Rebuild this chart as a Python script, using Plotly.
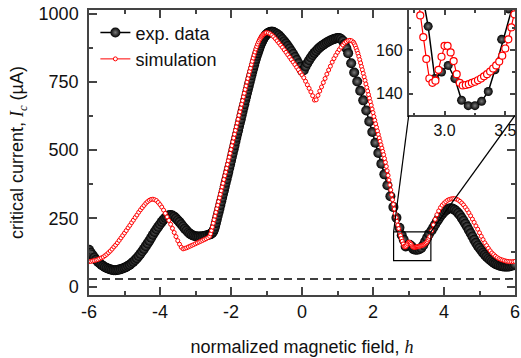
import numpy as np
import plotly.graph_objects as go

# ---------------- data ----------------
# experimental critical current (black balls); each segment: start h, step h, values (uA)
exp_seg_h0 = [-6.0, -2.575, -0.75, 1.30, 2.81, 3.65]
exp_seg_dh = [0.05, 0.025, 0.05, 0.085, 0.055, 0.05]
exp_ic_1 = [135, 124, 115, 106, 98, 91, 85, 80, 75, 71, 68, 65, 63, 61, 60, 60, 61, 62, 64, 66,
            69, 72, 76, 80, 85, 91, 97, 104, 112, 120, 129, 138, 148, 158, 168, 179, 190, 200, 210, 219,
            228, 237, 245, 252, 257, 261, 262, 260, 256, 250, 243, 236, 228, 220, 212, 205, 198, 193, 189, 186,
            184, 183, 183, 183, 184, 185, 187, 189, 191]
exp_ic_2 = [192, 194, 197, 202, 210, 220, 233, 246,
            259, 272, 285, 299, 312, 325, 339, 352,
            366, 380, 393, 407, 420, 434, 447, 461,
            475, 489, 503, 517, 531, 545, 559, 572,
            586, 600, 613, 627, 641, 655, 668, 682,
            695, 709, 722, 735, 748, 761, 774, 787,
            799, 811, 823, 834, 845, 855, 865, 874,
            883, 891, 898, 905, 911, 916, 920, 924,
            927, 929, 931, 932, 933, 933, 933, 932]
exp_ic_3 = [929, 925, 920, 913, 906, 898, 890, 881, 872, 862, 852, 841, 830, 818, 805, 791,
            792, 806, 818, 829, 839, 848, 856, 863, 870, 876, 881, 886, 890, 894, 898, 901,
            904, 907, 909, 910, 910, 907, 900, 888, 873]
exp_ic_4 = [855, 818, 784, 751, 717, 682, 645, 605, 566, 527, 489, 450, 411, 371, 331, 291, 252, 215]
exp_ic_5 = [188, 171, 147, 150, 153, 147, 137, 134.5, 134.5, 136.5, 141, 151, 165, 179, 193]
exp_ic_6 = [205, 216, 227, 238, 248, 258, 266, 273, 279, 283, 286, 287, 285, 281, 276, 269,
            261, 251, 241, 230, 219, 207, 195, 183, 171, 160, 150, 141, 132, 124, 116, 109,
            103, 97, 92, 87, 83, 80, 77, 75, 74, 73, 73, 73, 74, 76, 78, 81]
exp_ic_segments = [exp_ic_1, exp_ic_2, exp_ic_3, exp_ic_4, exp_ic_5, exp_ic_6]

# simulation (red open circles)
sim_seg_h0 = [-6.0, -2.575, -0.95, 1.475, 3.65]
sim_seg_dh = [0.05, 0.025, 0.05, 0.025, 0.05]
sim_ic_1 = [91, 92, 94, 95, 97, 99, 102, 105, 108, 113, 118, 124, 130, 137, 145, 152, 160, 169, 178, 187,
            196, 205, 215, 224, 234, 243, 253, 262, 272, 281, 289, 297, 305, 311, 316, 319, 320, 318, 315, 308,
            300, 291, 280, 268, 255, 242, 228, 213, 198, 183, 168, 155, 144, 138, 140, 142, 145, 148, 151, 154,
            157, 160, 163, 166, 169, 172, 175, 179, 184]
sim_ic_2 = [193, 205, 218, 232, 245, 258, 272, 285,
            298, 311, 325, 338, 351, 365, 378, 392,
            406, 419, 433, 447, 461, 474, 488, 502,
            516, 530, 544, 558, 572, 585, 599, 613,
            627, 640, 654, 668, 681, 695, 708, 722,
            735, 749, 762, 775, 788, 800, 813, 825,
            837, 848, 859, 870, 879, 888, 896, 903,
            909, 914, 918, 922, 925, 927, 929, 930]
sim_ic_3 = [929, 926, 921, 915, 908, 900, 892, 884,
            876, 867, 858, 849, 840, 831, 822, 813,
            803, 794, 784, 775, 765, 752, 739, 726,
            713, 699, 683, 684, 700, 716, 731, 747,
            762, 778, 793, 807, 822, 835, 847, 858,
            868, 877, 885, 892, 897, 901, 902, 900,
            895]
sim_ic_4 = [889, 882, 873, 864, 854, 843, 831, 819, 806, 794, 781, 768, 755, 742, 729, 716, 703,
            690, 677, 664, 650, 637, 623, 609, 596, 583, 570, 557, 544, 532, 519, 507, 495, 483,
            469, 455, 440, 424, 407, 390, 372, 354, 336, 318, 301, 284, 268, 253, 239, 225, 212,
            199, 187, 176, 166, 156, 147, 145, 146, 151, 157, 162, 162, 159, 155, 149, 145, 143.8,
            144, 144.4, 145, 145.5, 146.2, 147, 148, 149, 150.2, 151.6, 153, 154.8, 157.5, 160.8,
            165, 170.5, 176.5, 183]
sim_ic_5 = [204, 226, 246, 263, 277, 289, 298, 305, 311, 316, 319, 321, 322, 322, 320, 317,
            312, 306, 299, 290, 281, 270, 259, 247, 235, 222, 210, 197, 184, 172, 160, 150,
            140, 131, 123, 117, 111, 106, 102, 99, 97, 95, 93, 92, 91, 91, 91, 92]
sim_ic_segments = [sim_ic_1, sim_ic_2, sim_ic_3, sim_ic_4, sim_ic_5]

noise_level = 28           # dashed line (uA)
zoom_box_h = [2.58, 3.63]  # zoom window drawn in the main panel
zoom_box_ic = [95, 200]

x_ticks = [-6, -4, -2, 0, 2, 4, 6]
x_ticktext = ["-6", "-4", "-2", "0", "2", "4", "6"]
y_ticks = [0, 250, 500, 750, 1000]
inset_x_ticks = [3.0, 3.5]
inset_x_ticktext = ["3.0", "3.5"]
inset_y_ticks = [140, 160]


def build(h0s, dhs, segs):
    hs, vs = [], []
    for h0, dh, v in zip(h0s, dhs, segs):
        hs.append(np.round(h0 + dh * np.arange(len(v)), 4))
        vs.append(np.asarray(v, dtype=float))
    return np.concatenate(hs), np.concatenate(vs)


exp_h, exp_ic = build(exp_seg_h0, exp_seg_dh, exp_ic_segments)
sim_h, sim_ic = build(sim_seg_h0, sim_seg_dh, sim_ic_segments)

# ---------------- figure ----------------
X_RANGE = [-6, 6]
Y_RANGE = [-31, 1013]
IX_RANGE = [2.705, 3.58]
IY_RANGE = [130, 178.5]
INSET_XDOM = [0.7505, 1.0]
INSET_YDOM = [0.63, 1.0]

AX = "#444444"
FONT = "Liberation Sans, Arial, sans-serif"
SERIF = "font-family:Liberation Serif,Times New Roman,serif"
RED = "#ff0000"

fig = go.Figure()

fig.add_trace(go.Scatter(x=X_RANGE, y=[noise_level, noise_level], mode="lines",
                         line=dict(color="black", width=1.5, dash="8px,5px"),
                         showlegend=False, hoverinfo="skip"))

ball = dict(symbol="circle", color="black", line=dict(width=0),
            gradient=dict(type="radial", color="#7a7a7a"))

fig.add_trace(go.Scatter(x=exp_h, y=exp_ic, mode="lines+markers", name="exp. data",
                         line=dict(color="black", width=1.5),
                         marker=dict(size=10, **ball)))
fig.add_trace(go.Scatter(x=sim_h, y=sim_ic, mode="lines+markers", name="simulation",
                         line=dict(color=RED, width=1),
                         marker=dict(symbol="circle", size=4, color="white",
                                     line=dict(color=RED, width=1))))

# inset traces
fig.add_trace(go.Scatter(x=exp_h, y=exp_ic, mode="lines+markers", xaxis="x2", yaxis="y2",
                         line=dict(color="black", width=1.5), showlegend=False,
                         marker=dict(size=9, **ball)))
fig.add_trace(go.Scatter(x=sim_h, y=sim_ic, mode="lines+markers", xaxis="x2", yaxis="y2",
                         line=dict(color=RED, width=1.2), showlegend=False,
                         marker=dict(symbol="circle", size=7, color="white",
                                     line=dict(color=RED, width=1.2))))

common = dict(showline=True, linecolor=AX, linewidth=1.5, mirror="allticks",
              ticks="inside", tickcolor=AX, tickwidth=1.5, showgrid=False, zeroline=False,
              ticklabeloverflow="allow")

fig.update_layout(
    width=521, height=358,
    margin=dict(l=89, r=1, t=10, b=63),
    paper_bgcolor="white", plot_bgcolor="white",
    font=dict(family=FONT, size=18, color="#111111"),
    showlegend=True,
    legend=dict(x=0.015, y=0.985, xanchor="left", yanchor="top",
                bgcolor="rgba(0,0,0,0)", font=dict(size=18), tracegroupgap=0),
    xaxis=dict(range=X_RANGE, tickvals=x_ticks, ticktext=x_ticktext, ticklen=8,
               minor=dict(ticks="inside", ticklen=4, dtick=1, tick0=0, tickcolor=AX, tickwidth=1.5),
               tickfont=dict(size=18), ticklabelstandoff=0,
               title=dict(text="normalized magnetic field, <span style='%s'><i>h</i></span>" % SERIF,
                          font=dict(size=18), standoff=19),
               **common),
    yaxis=dict(range=Y_RANGE, tickvals=y_ticks, ticklen=8,
               minor=dict(ticks="inside", ticklen=4, dtick=125, tick0=0, tickcolor=AX, tickwidth=1.5),
               tickfont=dict(size=18), ticklabelstandoff=5,
               title=dict(text="critical current, <span style='%s'><i>I<sub>c</sub></i></span> (µA)" % SERIF,
                          font=dict(size=18), standoff=10),
               **common),
    xaxis2=dict(domain=INSET_XDOM, anchor="y2", range=IX_RANGE, tickvals=inset_x_ticks,
                ticktext=inset_x_ticktext, ticklen=5,
                minor=dict(ticks="inside", ticklen=3, tickvals=[2.75, 3.25], tickcolor=AX, tickwidth=1.5),
                tickfont=dict(size=16), ticklabelstandoff=0, **common),
    yaxis2=dict(domain=INSET_YDOM, anchor="x2", range=IY_RANGE, tickvals=inset_y_ticks, ticklen=5,
                minor=dict(ticks="inside", ticklen=3, tickvals=[150, 170], tickcolor=AX, tickwidth=1.5),
                tickfont=dict(size=16), ticklabelstandoff=1, **common),
)

# zoom box and connecting lines
inset_left_h = X_RANGE[0] + INSET_XDOM[0] * (X_RANGE[1] - X_RANGE[0])
inset_right_h = X_RANGE[0] + INSET_XDOM[1] * (X_RANGE[1] - X_RANGE[0])
inset_bottom_ic = Y_RANGE[0] + INSET_YDOM[0] * (Y_RANGE[1] - Y_RANGE[0])

fig.add_shape(type="rect", xref="x", yref="y", x0=zoom_box_h[0], x1=zoom_box_h[1],
              y0=zoom_box_ic[0], y1=zoom_box_ic[1], line=dict(color="black", width=1.2))
fig.add_shape(type="line", xref="x", yref="y", x0=zoom_box_h[0], y0=zoom_box_ic[1],
              x1=inset_left_h, y1=inset_bottom_ic, line=dict(color="black", width=1.2))
fig.add_shape(type="line", xref="x", yref="y", x0=zoom_box_h[1], y0=zoom_box_ic[1],
              x1=inset_right_h, y1=inset_bottom_ic, line=dict(color="black", width=1.2))

fig.write_html("out.html")
